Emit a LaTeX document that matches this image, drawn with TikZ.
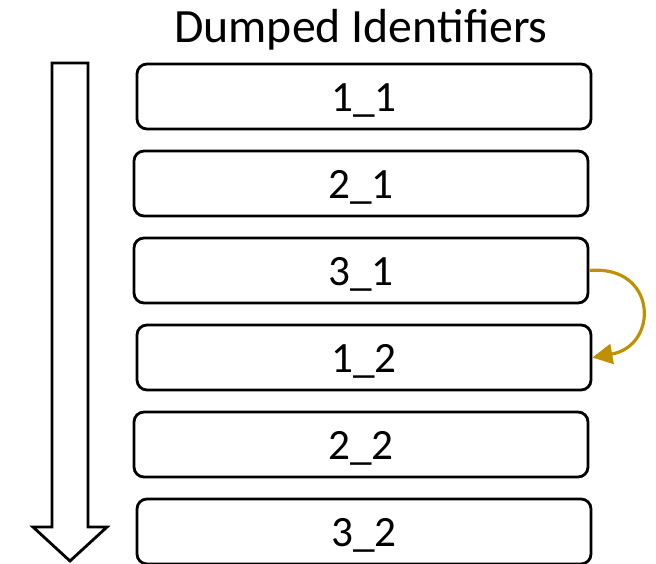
\documentclass[tikz,border=0pt]{standalone}
\usepackage{fontspec}
\setmainfont{Carlito}
\usepackage{tikz}
\usetikzlibrary{arrows.meta,positioning}
\definecolor{gold}{HTML}{BF9000}
\tikzstyle{idbox} =
  [rectangle, draw, line width=0.8pt, rounded corners=1mm,
   minimum width=4.54cm, minimum height=0.65cm, text centered,
   text height=0.86em, text depth=0pt,
   font=\fontsize{12.3}{15}\selectfont]
\tikzstyle{swap}=[draw,gold,line width=0.9pt,-{Triangle[length=2mm,width=2mm]}]

\begin{document}
\begin{tikzpicture}[node distance = 0.87cm]
  \useasboundingbox (0,0) rectangle (6.56,-5.63);
  \node [font=\fontsize{13.6}{16}\selectfont] (title) at (3.61,-0.30) {Dumped Identifiers};

  \node [idbox] (a1) at (3.64,-0.965) {1\_1};
  \node [idbox, below of=a1, xshift=-0.03cm] (b1) {2\_1};
  \node [idbox, below of=b1] (c1) {3\_1};
  \node [idbox, below of=c1, xshift=0.03cm] (a2) {1\_2};
  \node [idbox, below of=a2, xshift=-0.03cm] (b2) {2\_2};
  \node [idbox, below of=b2, xshift=0.03cm] (c2) {3\_2};

  % hollow arrow for the dump order
  \draw [line width=0.8pt, line join=miter]
    (0.52,-0.63) -- (0.88,-0.63) -- (0.88,-5.27) -- (1.07,-5.27)
    -- (0.70,-5.61) -- (0.33,-5.27) -- (0.52,-5.27) -- cycle;

  \draw [swap] (c1.east) to [out=5, in=10, looseness=2] (a2.east);
\end{tikzpicture}
\end{document}
